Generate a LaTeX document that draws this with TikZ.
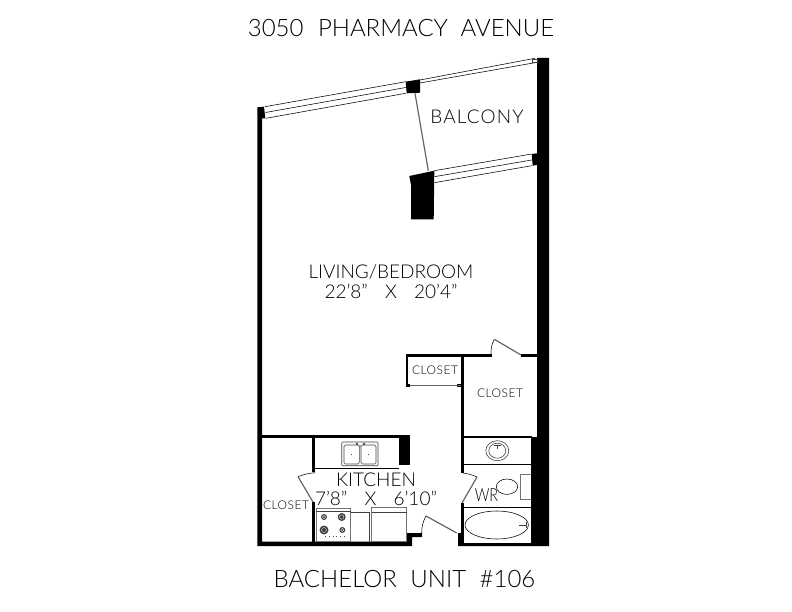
\documentclass[tikz,border=0pt]{standalone}
\usepackage{fontspec}
\setmainfont{Lato Light}
\tikzset{
  x=1pt,y=-1pt,
  wall/.style={fill=black,draw=none},
  thin line/.style={draw=black,line width=0.55pt},
  gray door/.style={draw=black!60,line width=1.2pt},
  fixture/.style={draw=black!75,line width=0.6pt},
  fixture gray/.style={draw=black!55,line width=1pt},
  label/.style={inner sep=0pt,text=black},
  big text/.style={label,font=\fontsize{24}{24}\selectfont},
  mid text/.style={label,align=center,font=\fontsize{19}{20}\selectfont},
  small text/.style={label,font=\fontsize{12}{12}\selectfont\addfontfeature{LetterSpace=4}}
}
\begin{document}
\begin{tikzpicture}
\useasboundingbox (0,0) rectangle (792,612);
% outer walls
\fill[wall] (257.3,107.3) -- (264,106.7) -- (265.3,118.3) -- (262,118.5) -- (262,541.5) -- (407,541.5) -- (407,533) -- (422,533) -- (422,537) -- (412,537) -- (412,546) -- (257.3,546) -- cycle;
\fill[wall] (537,58) -- (549,58) -- (549,546) -- (458,546) -- (458,533) -- (462,533) -- (463.5,537) -- (463.5,543) -- (531,543) -- (531,437) -- (537,437) -- cycle;
% kitchen and closets
\fill[wall] (262,435) rectangle (410,438);
\fill[wall] (399,438) rectangle (410,465);
\fill[wall] (312,438) rectangle (315,472);
\fill[wall] (312,502) rectangle (315,542);
\fill[wall] (405.5,354) rectangle (491.5,356.7);
\fill[wall] (521,354) rectangle (537,356.7);
\fill[wall] (405.5,354) rectangle (408,386);
\fill[wall] (461,354) rectangle (463.5,473);
\fill[wall] (461,503) rectangle (463.5,545);
\fill[wall] (463,436) rectangle (532,438);
\fill[wall] (405.5,384) rectangle (410,387);
\fill[wall] (457,384) rectangle (461,387);
\draw[gray door] (410,385.5) -- (461,385.5);
% doors
\draw[thin line] (491,354) to[bend left=14] (494.3,339.3);
\draw[gray door] (494.3,339.3) -- (521,355);
\draw[thin line] (421.7,533) to[bend left=14] (426,516);
\draw[gray door] (426,516) -- (456.7,533);
\draw[thin line] (463,473) to[bend left=8] (477,477);
\draw[gray door] (477,477) -- (462,503);
\draw[thin line] (315,472.7) to[bend right=8] (298,476.7);
\draw[gray door] (298,476.7) -- (313,502);
% upper window
\draw[thin line] (265,106.7) -- (405.7,81.7);
\draw[thin line] (265.5,112.5) -- (405.7,87.5);
\draw[thin line] (266,118.3) -- (405.7,93.3);
\fill[wall] (405.7,81.7) -- (420,79.3) -- (420,92.7) -- (406.7,93.3) -- cycle;
\draw[thin line] (420,80) -- (535,58.3);
\draw[thin line] (420,83) -- (535,62.7);
\draw[fixture,line width=0.4pt] (532,59) rectangle (537,62.5);
\draw[gray door] (415,93.3) -- (428.3,170.7);
% stub wall and lower window
\fill[wall] (409.3,176) -- (434.3,170.7) -- (433.7,219.3) -- (411,219.3) -- (411,185) -- cycle;
\draw[thin line] (434.3,170.7) -- (531.7,154);
\draw[thin line] (434.3,176.7) -- (531.7,160);
\draw[thin line] (434.3,182.7) -- (531.7,165.7);
\fill[wall] (531.7,154) -- (537,153.3) -- (537,165) -- (532.7,165.7) -- cycle;
% kitchen fixtures
\draw[thin line] (315,468) -- (399,468);
\draw[fixture,rounded corners=1pt] (341.7,442) rectangle (378,465.7);
\draw[fixture,rounded corners=1.5pt] (344,445) rectangle (359.3,464);
\draw[fixture,rounded corners=1.5pt] (361,445) rectangle (376,464);
\fill[black!70] (351.5,454.5) circle (0.7) (368.5,454.5) circle (0.7);
\draw[fixture] (357,444) circle (1) (360,444.5) -- (360,447) (364,444) circle (1);
% stove
\draw[fixture gray] (316,508) rectangle (350.7,541);
\draw[fixture] (316,511) -- (350.7,511);
\foreach \px/\py/\pr in {324/517/3,341.7/517/4,324/530/4.5,342.3/530/3}{
  \fill[black!75] (\px,\py) circle (\pr);
  \draw[white,line width=0.3pt] (\px,\py) circle (\pr*0.55);
}
\draw[black!70,line width=0.6pt,dash pattern=on 0.8pt off 3pt] (325,536) -- (345,536);
% fridge and counter box
\draw[fixture] (350.7,512) -- (369,512) -- (369,541.5);
\draw[fixture gray] (371.7,507) rectangle (406.7,541);
\draw[fixture] (371.7,512) -- (406.7,512);
% bath
\draw[thin line] (463.5,464.3) -- (531,464.3);
\draw[thin line] (463.5,507.3) -- (531,507.3);
\draw[fixture] (497.3,450.7) ellipse (11.5 and 10);
\draw[fixture] (497.3,450.7) ellipse (8.5 and 7.5);
\draw[fixture] (494,445) -- (500.5,445) (497.3,445) -- (497.3,449);
\draw[thin line] (507,486.7) ellipse (10.7 and 7.7);
\draw[fixture gray] (531,474) -- (520,474) -- (520,499) -- (531,499);
\draw[thin line] (496.7,525) ellipse (31.7 and 14);
\draw[black!75,line width=1pt] (519,525) -- (526,525) (526,522) -- (526,528);
% texts
\node[big text] (title) at (401,28) {3050\hspace{8pt} PHARMACY\hspace{6pt} AVENUE};
\node[mid text,font=\fontsize{19}{20}\selectfont\addfontfeature{LetterSpace=6}] (balcony) at (477,117) {BALCONY};
\node[mid text] (living) at (391,281.5) {LIVING/BEDROOM\\22'8"\hspace{12pt} X\hspace{12pt} 20'4"};
\node[small text] (closeta) at (435,370) {CLOSET};
\node[small text] (closetb) at (500,393.5) {CLOSET};
\node[small text] (closetc) at (286,505.5) {CLOSET};
\node[mid text,font=\fontsize{19}{18.5}\selectfont] (kitchen) at (376,489.5) {KITCHEN\\7'8"\hspace{12pt} X\hspace{12pt} 6'10"};
\node[mid text,font=\fontsize{18}{20}\selectfont\addfontfeature{FakeStretch=0.8}] (wr) at (486.5,495) {WR};
\node[big text] (unit) at (404.5,579) {BACHELOR\hspace{7pt} UNIT\hspace{7pt} \#106};
\end{tikzpicture}
\end{document}
